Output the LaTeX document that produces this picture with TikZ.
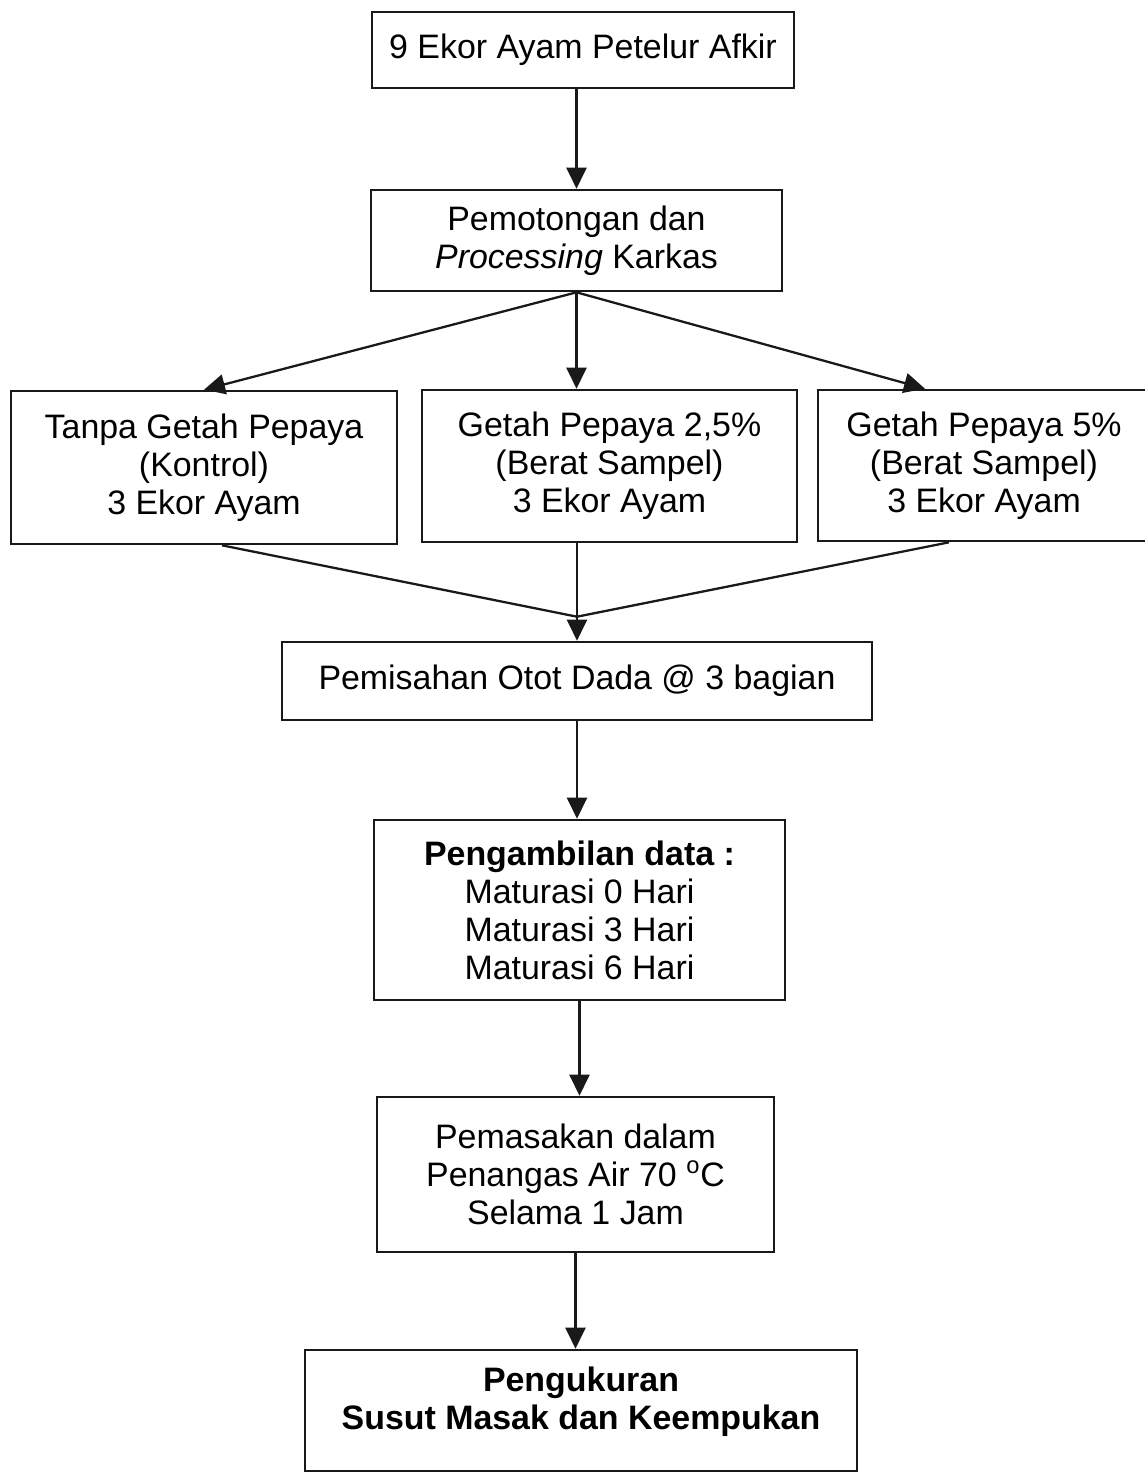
\documentclass[tikz,border=0pt]{standalone}
\usepackage{fontspec}
\setmainfont{Liberation Sans}
\usepackage{tikz}
\usetikzlibrary{arrows.meta, positioning}

\tikzset{
  box/.style={draw=black!90, line width=1.5pt, rectangle, inner sep=0pt, align=center,
    font=\fontsize{19.3}{21.6}\selectfont},
  arr/.style={draw=black!90, line width=1.3pt, -{Triangle[length=0.42cm,width=0.4cm]}},
  plain/.style={draw=black!90, line width=1.3pt}
}

\begin{document}
\begin{tikzpicture}[x=0.02cm, y=-0.02cm]
\useasboundingbox (0,0) rectangle (1145,1472);

\node [box, minimum width=8.44cm, minimum height=1.52cm] (ayam) at (583,50)
  {9 Ekor Ayam Petelur Afkir};
\node [box, minimum width=8.22cm, minimum height=2.02cm] (potong) at (576.5,240.5)
  {Pemotongan dan\\\textit{Processing} Karkas};

\node [box, minimum width=7.72cm, minimum height=3.06cm] (kontrol) at (204,467.5)
  {Tanpa Getah Pepaya\\(Kontrol)\\3 Ekor Ayam};
\node [box, minimum width=7.5cm, minimum height=3.04cm] (getahdua) at (609.5,466)
  {Getah Pepaya 2,5\%\\(Berat Sampel)\\3 Ekor Ayam};
\node [box, minimum width=6.64cm, minimum height=3.02cm] (getahlima) at (984,465.5)
  {Getah Pepaya 5\%\\(Berat Sampel)\\3 Ekor Ayam};

\node [box, minimum width=11.8cm, minimum height=1.56cm] (pisah) at (577,681)
  {Pemisahan Otot Dada @ 3 bagian};
\node [box, minimum width=8.22cm, minimum height=3.6cm] (data) at (579.5,910)
  {\textbf{Pengambilan data :}\\Maturasi 0 Hari\\Maturasi 3 Hari\\Maturasi 6 Hari};
\node [box, minimum width=7.94cm, minimum height=3.1cm] (masak) at (575.5,1174.5)
  {Pemasakan dalam\\Penangas Air 70 \textsuperscript{o}C\\Selama 1 Jam};
\node [box, minimum width=11.04cm, minimum height=2.42cm] (ukur) at (581,1410.5)
  {\textbf{Pengukuran}\\\textbf{Susut Masak dan Keempukan}\\[-8pt]\mbox{}};

\coordinate (gabung) at ([yshift=0.48cm]pisah.north);

\draw [arr] (ayam.south -| potong.north) -- (potong.north);
\draw [arr] (potong.south) -- (kontrol.north);
\draw [arr] (potong.south) -- (potong.south |- getahdua.north);
\draw [arr] (potong.south) -- ([xshift=-1.18cm]getahlima.north);

\draw [plain] ([xshift=0.36cm]kontrol.south) -- (gabung);
\draw [plain] ([xshift=-0.7cm]getahlima.south) -- (gabung);
\draw [arr] (pisah.north |- getahdua.south) -- (pisah.north);

\draw [arr] (pisah.south) -- (pisah.south |- data.north);
\draw [arr] (data.south) -- (data.south |- masak.north);
\draw [arr] (masak.south) -- (masak.south |- ukur.north);
\end{tikzpicture}
\end{document}
